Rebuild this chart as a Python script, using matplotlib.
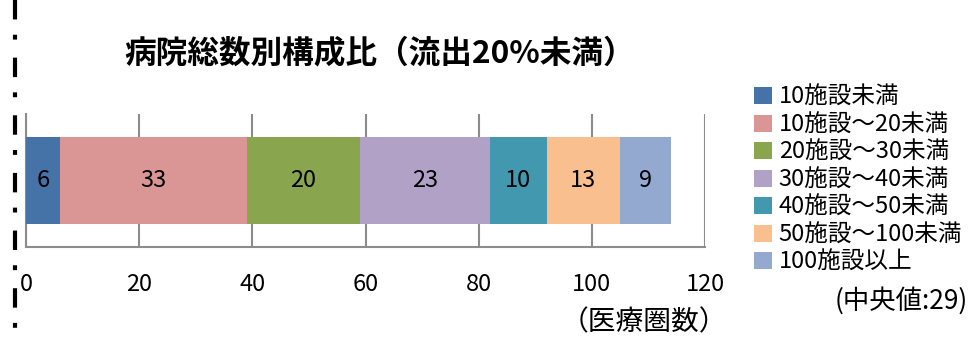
import matplotlib
matplotlib.use('Agg')
import matplotlib.pyplot as plt
from matplotlib.lines import Line2D

plt.rcParams['font.family'] = ['Noto Sans CJK JP', 'DejaVu Sans']
plt.rcParams['lines.scale_dashes'] = False

categories = ['10施設未満', '10施設～20未満', '20施設～30未満', '30施設～40未満',
              '40施設～50未満', '50施設～100未満', '100施設以上']
counts = [6, 33, 20, 23, 10, 13, 9]
colors = ['#4572A7', '#D99694', '#89A54E', '#B2A1C7', '#4198AF', '#F9BF8F', '#93A9CF']
xticks = [0, 20, 40, 60, 80, 100, 120]

W, H = 978, 340
fig = plt.figure(figsize=(W / 100, H / 100), dpi=100)

# plot area in pixels: x 26..705, y 114..247
ax = fig.add_axes([26 / W, 1 - 247 / H, (705 - 26) / W, (247 - 114) / H])

left = 0
for name, n, c in zip(categories, counts, colors):
    ax.barh(0, n, left=left, height=0.65, color=c, label=name, zorder=3)
    ax.text(left + n / 2, 0, str(n), ha='center', va='center', fontsize=17, color='black', zorder=4)
    left += n

ax.set_xlim(0, 120)
ax.set_ylim(-0.5, 0.5)
ax.set_xticks(xticks)
ax.set_xticklabels([str(t) for t in xticks], fontsize=17)
ax.tick_params(axis='x', length=0, pad=19)
ax.set_yticks([])
ax.grid(axis='x', color='#8c8c8c', linewidth=1.5, zorder=1)
for side in ['top', 'right']:
    ax.spines[side].set_visible(False)
for side in ['left', 'bottom']:
    ax.spines[side].set_color('#8c8c8c')
    ax.spines[side].set_linewidth(1.5)

fig.text(380 / W, 1 - 53 / H, '病院総数別構成比（流出20%未満）', ha='center', va='center',
         fontsize=22.8, fontweight='bold')

fig.legend(loc='upper left', bbox_to_anchor=(754 / W, 1 - 86 / H), frameon=False,
           fontsize=17, handlelength=0.75, handleheight=0.75, handletextpad=0.3,
           labelspacing=0.19, borderpad=0, borderaxespad=0)

fig.text(968 / W, 1 - 301 / H, '(中央値:29)', ha='right', va='center', fontsize=19)
fig.text(644 / W, 1 - 322 / H, '（医療圏数）', ha='center', va='center', fontsize=20)

# dash-dot border on the left edge
fig.add_artist(Line2D([15 / W, 15 / W], [1.0, 0.0], transform=fig.transFigure,
                      color='black', linewidth=3, dashes=(14, 11, 3.5, 13)))

fig.savefig('out.png', dpi=100)
